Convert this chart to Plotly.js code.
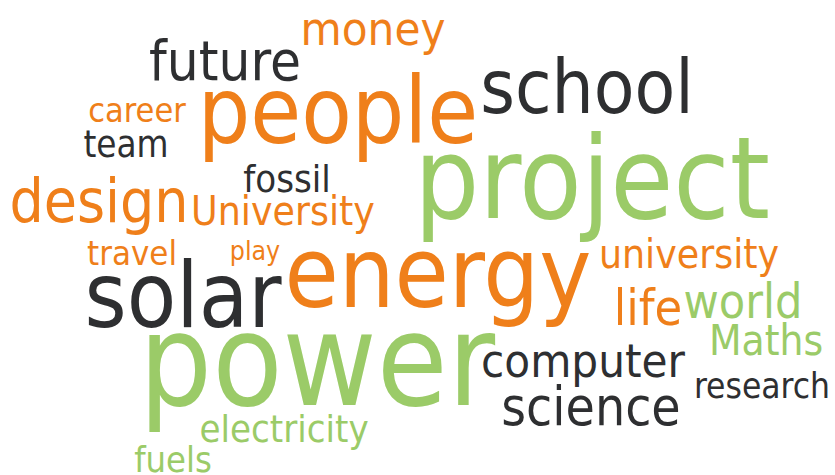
<!DOCTYPE html>
<html><head><script src="https://cdn.plot.ly/plotly-3.0.1.min.js"></script></head>
<body style="margin:0;background:#fff">
<div id="c" style="width:835px;height:475px"></div>
<script>
// Word cloud data: words, their weights (font size) and colour group
const words   = ["money","future","people","career","team","fossil","design","University","school","project",
                 "travel","play","solar","energy","power","electricity","fuels","university","life","world",
                 "Maths","computer","science","research"];
const weights = [47,56,92,34,36.5,38,60,40.5,74,114,
                 34.5,26.5,90,98,128,38,36,40.5,50,48,
                 42,47,53,35];
const groups  = ["o","d","o","o","d","d","o","o","d","g",
                 "o","o","d","o","g","g","g","o","o","g",
                 "g","d","d","d"];
// Layout of the cloud (word centre x, baseline y, in pixels)
const posX = [373,225,338,137,126,287,99,283,587,592,
              132,255,183,438,317,284,173,689,648,743,
              766,583,591,762];
const posBase = [45,80,143,122,157,192,222,225,113,218,
                 265,260,327,307,405,442,472,268,325,318,
                 355,377,425,398];

const palette = {o:"#EF7F1A", g:"#9BCB68", d:"#2E2F31"};
const MID_SHIFT = 0.25; // plotly 'middle' text: baseline sits 0.25*size below the point
const trace = {
  x: posX,
  y: posBase.map((b,i)=> b - MID_SHIFT*weights[i]),
  mode: "text",
  text: words,
  textposition: "middle center",
  textfont: {family:"DejaVu Sans Condensed, DejaVu Sans, sans-serif", size: weights, color: groups.map(g=>palette[g])},
  cliponaxis: false,
  hoverinfo: "text"
};
Plotly.newPlot("c",[trace],{
  width:835,height:475,margin:{l:0,r:0,t:0,b:0},showlegend:false,
  paper_bgcolor:"#fff",plot_bgcolor:"#fff",
  xaxis:{range:[0,835],visible:false,fixedrange:true},
  yaxis:{range:[475,0],visible:false,fixedrange:true}
},{staticPlot:true});
</script></body></html>
